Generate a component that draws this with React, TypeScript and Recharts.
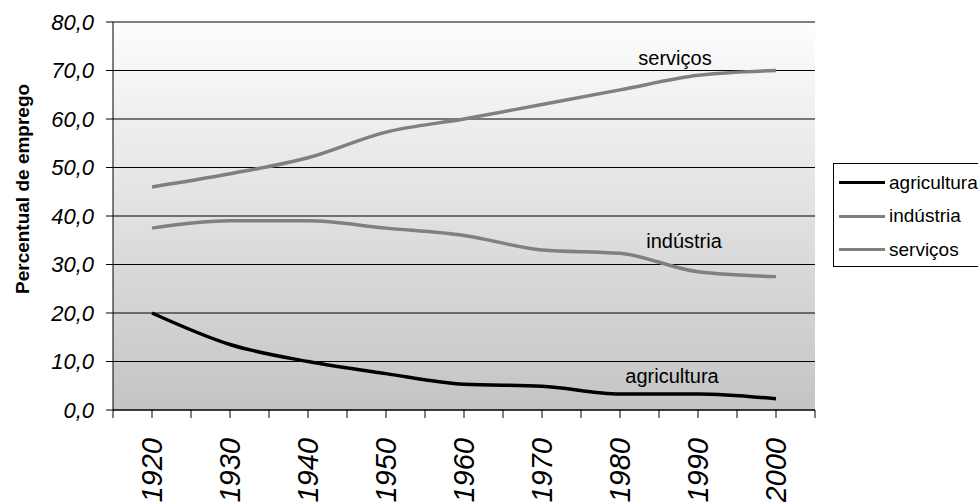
import React from "react"
import {
  LineChart,
  Line,
  XAxis,
  YAxis,
  CartesianGrid,
  ReferenceDot,
} from "recharts"

const anos = ["1920", "1930", "1940", "1950", "1960", "1970", "1980", "1990", "2000"]
const agricultura = [20.0, 13.5, 10.0, 7.5, 5.3, 4.9, 3.3, 3.3, 2.3]
const industria = [37.5, 39.0, 39.0, 37.5, 36.0, 33.0, 32.3, 28.5, 27.5]
const servicos = [46.0, 48.7, 52.0, 57.3, 60.0, 63.0, 66.0, 69.0, 70.0]
const yTicks = [0, 10, 20, 30, 40, 50, 60, 70, 80]

const data = anos.map((ano, i) => ({
  ano,
  agricultura: agricultura[i],
  industria: industria[i],
  servicos: servicos[i],
}))

const series = [
  { key: "agricultura", name: "agricultura", color: "#000000" },
  { key: "industria", name: "indústria", color: "#808080" },
  { key: "servicos", name: "serviços", color: "#808080" },
]

const W = 978
const H = 502
const X_AXIS_H = 92
const Y_AXIS_W = 113
const M = { top: 22, right: 163, bottom: 0, left: 0 }
const BAND = (W - M.right - Y_AXIS_W) / anos.length
const FONT = "'Liberation Sans', Arial, sans-serif"

const fmt = (v: number) => v.toFixed(1).replace(".", ",")

function YearTick(props: any) {
  const { x, y, payload, index } = props
  const last = index === anos.length - 1
  return (
    <g>
      <line x1={x} x2={x} y1={y} y2={y + 8} stroke="#000" />
      <line x1={x - BAND / 2} x2={x - BAND / 2} y1={y} y2={y + 8} stroke="#000" />
      {last && <line x1={x + BAND / 2} x2={x + BAND / 2} y1={y} y2={y + 8} stroke="#000" />}
      <text
        x={x}
        y={y + 28}
        transform={`rotate(-90, ${x}, ${y + 28})`}
        textAnchor="end"
        dominantBaseline="central"
        fontSize={29}
        fontStyle="italic"
        fontFamily={FONT}
        fill="#000"
      >
        {payload.value}
      </text>
    </g>
  )
}

function LegendBox() {
  return (
    <div
      style={{
        position: "absolute",
        left: 833,
        top: 163,
        border: "1px solid #000",
        background: "#fff",
        width: 150,
        height: 104,
        boxSizing: "border-box",
        padding: "2px 0 0 5px",
        fontFamily: FONT,
        fontSize: 19,
      }}
    >
      {series.map((s) => (
        <div key={s.key} style={{ display: "flex", alignItems: "center", height: 33.5 }}>
          <div style={{ width: 46, height: 3, background: s.color, marginRight: 4 }} />
          <span style={{ color: "#000" }}>{s.name}</span>
        </div>
      ))}
    </div>
  )
}

const inLabel = (value: string, dx: number) => ({
  value,
  position: "center" as const,
  dx,
  fontSize: 20,
  fontFamily: FONT,
  fill: "#000",
})

export default function App() {
  return (
    <div style={{ position: "absolute", left: 0, top: 0, width: W, height: H, overflow: "hidden", background: "#fff" }}>
      <LineChart width={W} height={H} data={data} margin={M}>
        <defs>
          <linearGradient id="bg" x1="0" y1="0" x2="0" y2="1">
            <stop offset="0%" stopColor="#fdfdfd" />
            <stop offset="100%" stopColor="#c4c4c4" />
          </linearGradient>
        </defs>
        <CartesianGrid vertical={false} stroke="#000" fill="url(#bg)" fillOpacity={1} />
        <XAxis
          dataKey="ano"
          interval={0}
          padding={{ left: BAND / 2, right: BAND / 2 }}
          axisLine={{ stroke: "#000" }}
          tickLine={false}
          tickSize={0}
          tickMargin={0}
          tick={<YearTick />}
          height={X_AXIS_H}
        />
        <YAxis
          width={Y_AXIS_W}
          domain={[0, 80]}
          ticks={yTicks}
          interval={0}
          tickFormatter={fmt}
          axisLine={{ stroke: "#000" }}
          tickLine={{ stroke: "#000" }}
          tickSize={7}
          tickMargin={12}
          tick={{ fontSize: 22, fontStyle: "italic", fontFamily: FONT, fill: "#000" }}
          label={{
            value: "Percentual de emprego",
            angle: -90,
            position: "insideLeft",
            dx: 17,
            dy: 78,
            fontSize: 19,
            fontWeight: "bold",
            fontFamily: FONT,
            fill: "#000",
          }}
        />
        {series.map((s) => (
          <Line
            key={s.key}
            type="monotone"
            dataKey={s.key}
            name={s.name}
            stroke={s.color}
            strokeWidth={3.5}
            dot={false}
            activeDot={false}
            isAnimationActive={false}
          />
        ))}
        <ReferenceDot x="1990" y={72.6} r={0} label={inLabel("serviços", -23)} />
        <ReferenceDot x="1990" y={34.8} r={0} label={inLabel("indústria", -14)} />
        <ReferenceDot x="1990" y={7.0} r={0} label={inLabel("agricultura", -26)} />
      </LineChart>
      <LegendBox />
    </div>
  )
}
